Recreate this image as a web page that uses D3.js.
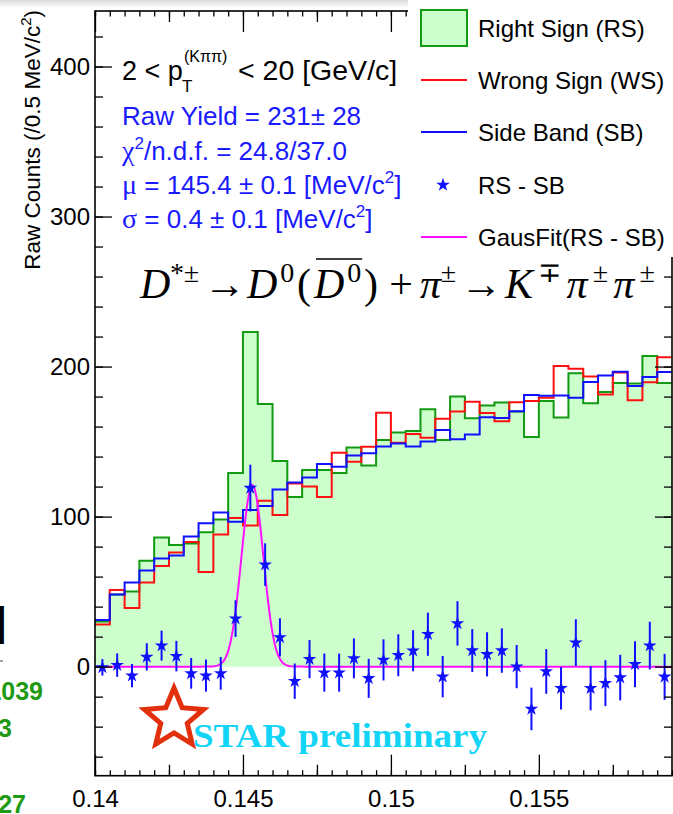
<!DOCTYPE html>
<html lang="en">
<head>
    <meta charset="UTF-8">
    <title>D* RS - SB</title>
    <style>
        body { margin: 0; background: #fff; }
        svg text { font-family: "Liberation Sans", Arial, Helvetica, sans-serif; }
        .axis .domain { display: none; }
        .axis line { stroke: #000; stroke-width: 1.3; }
        .axis text { font-size: 24px; fill: #000; }
    </style>
</head>
<body>

<svg width="673" height="814"></svg>

<script src="https://cdnjs.cloudflare.com/ajax/libs/d3/7.8.5/d3.min.js"></script>
<script>

    // Histogram binning: 0.5 MeV/c^2 bins from 0.14
    const binStart = 0.14;
    const binWidth = 0.0005;

    const rightSign = [30, 48, 50, 70.5, 86, 81, 82, 89.5, 98, 129,
        223, 175, 137, 113, 131, 131, 129, 146, 134, 151,
        156, 157, 171.5, 151, 180, 165.5, 174, 176, 170, 153,
        177, 166, 195.5, 175.5, 183, 189, 188.7, 207, 189];

    const wrongSign = [28, 51, 39, 56, 67, 76, 83, 63, 88, 99,
        94, 110.5, 101, 122, 120, 113, 142.5, 136.5, 146.5, 169.3,
        149.3, 155, 152.5, 165.2, 170, 176.5, 169, 163.5, 176.3, 177,
        179.3, 200.4, 198.5, 193.3, 181.4, 196, 177.5, 189.5, 206.2];

    const sideBand = [31, 48, 56, 64, 72, 74, 86.7, 95.5, 102.7, 96.5,
        104.4, 107.1, 118, 122.7, 126, 135.1, 133.3, 140.7, 142.2, 146.7,
        148.7, 146.7, 150, 157.8, 151.6, 154.8, 166.2, 165.7, 170.3, 181.1,
        180.5, 180.7, 179.3, 189.7, 194, 196.5, 187.1, 193.1, 196.3];

    const rsMinusSb = [-0.5, 1, -6, 6.5, 14, 7, -4.5, -6, -4.5, 32,
        119, 68, 19.5, -9.7, 5, -4, -4, 5.5, -7.8, 4.5,
        7.6, 10.6, 21.6, -6.7, 28.8, 10.7, 8.2, 10.7, 0, -28.2,
        -3.2, -14.4, 16, -14.4, -11, -7.3, 1.6, 14, -6.8];

    const rsMinusSbErr = [5.5, 7.8, 7.8, 9.1, 10, 10.2, 10.2, 10.7, 10.9, 12.2,
        15.6, 14.2, 12.7, 11.8, 12.7, 12.7, 12.7, 13.3, 13, 13.7,
        14, 13.7, 14.4, 13.8, 14.8, 14.3, 14.7, 14.8, 14.4, 14.2,
        14.9, 14.2, 15.6, 14.7, 15.3, 15.2, 15.3, 15.9, 15.3];

    // Gaussian fit to RS - SB
    const fitMean = 0.14532;
    const fitSigma = 0.00037;
    const fitAmp = 121;

    const xTicks = [0.14, 0.145, 0.15, 0.155];
    const xTickLabels = ['0.14', '0.145', '0.15', '0.155'];
    const xMidTicks = [0.1425, 0.1475, 0.1525, 0.1575];
    const yTicks = [0, 100, 200, 300, 400];
    const yTickLabels = ['0', '100', '200', '300', '400'];

    const infoLines = [
        ['Raw Yield = 231', '±', ' 28'],
        ['χ', '2', '/n.d.f. = 24.8/37.0'],
        ['μ', ' = 145.4 ± 0.1 [MeV/c', '2', ']'],
        ['σ', ' = 0.4 ± 0.1 [MeV/c', '2', ']']
    ];

    const legendItems = ['Right Sign (RS)', 'Wrong Sign (WS)', 'Side Band (SB)', 'RS - SB', 'GausFit(RS - SB)'];

    // Colours
    const rsLine = '#129a12';
    const rsFill = '#ccffcc';
    const wsLine = '#ff1010';
    const sbLine = '#1010ff';
    const fitLine = '#ff10ff';
    const infoBlue = '#1a1aff';

    const frame = { left: 95, right: 672, top: 11, bottom: 775.7 };

    const svg = d3.select('svg');

    const nBins = rightSign.length;
    const edges = d3.range(nBins + 1).map(function(i) { return binStart + i * binWidth; });

    const x = d3.scaleLinear()
        .domain([binStart, binStart + nBins * binWidth])
        .range([frame.left, frame.right]);

    const y = d3.scaleLinear()
        .domain([-72.7, 437])
        .range([frame.bottom, frame.top]);

    // light grey strip on top of the screenshot
    const grad = svg.append('defs').append('linearGradient')
        .attr('id', 'topShade').attr('x1', 0).attr('x2', 0).attr('y1', 0).attr('y2', 1);
    grad.append('stop').attr('offset', '0%').attr('stop-color', '#dcdcdc');
    grad.append('stop').attr('offset', '100%').attr('stop-color', '#ffffff');
    svg.append('rect').attr('x', 0).attr('y', 0).attr('width', 660).attr('height', 8)
        .attr('fill', 'url(#topShade)');

    svg.select('defs').append('clipPath').attr('id', 'plotClip')
        .append('rect')
        .attr('x', frame.left).attr('y', frame.top)
        .attr('width', frame.right - frame.left).attr('height', frame.bottom - frame.top);

    const plot = svg.append('g').attr('clip-path', 'url(#plotClip)');

    function stepPoints(values) {
        const pts = values.map(function(v, i) { return [edges[i], v]; });
        pts.push([edges[nBins], values[nBins - 1]]);
        return pts;
    }

    const area = d3.area()
        .curve(d3.curveStepAfter)
        .x(function(d) { return x(d[0]); })
        .y0(y(0))
        .y1(function(d) { return y(d[1]); });

    const line = d3.line()
        .curve(d3.curveStepAfter)
        .x(function(d) { return x(d[0]); })
        .y(function(d) { return y(d[1]); });

    plot.append('path')
        .attr('d', area(stepPoints(rightSign)))
        .attr('fill', rsFill);

    plot.append('path')
        .attr('d', line(stepPoints(rightSign)))
        .attr('fill', 'none').attr('stroke', rsLine).attr('stroke-width', 2);

    plot.append('path')
        .attr('d', line(stepPoints(wrongSign)))
        .attr('fill', 'none').attr('stroke', wsLine).attr('stroke-width', 2);

    plot.append('path')
        .attr('d', line(stepPoints(sideBand)))
        .attr('fill', 'none').attr('stroke', sbLine).attr('stroke-width', 2);

    // Gaussian fit curve
    const fitX = d3.range(0, 601).map(function(i) { return binStart + i * (nBins * binWidth) / 600; });
    const fitLineGen = d3.line()
        .x(function(d) { return x(d); })
        .y(function(d) {
            const z = (d - fitMean) / fitSigma;
            return y(fitAmp * Math.exp(-0.5 * z * z));
        });
    plot.append('path')
        .attr('d', fitLineGen(fitX))
        .attr('fill', 'none').attr('stroke', fitLine).attr('stroke-width', 2);

    // RS - SB points with error bars
    const centers = rsMinusSb.map(function(v, i) { return binStart + (i + 0.5) * binWidth; });

    plot.selectAll('line.err')
        .data(rsMinusSb)
        .enter()
        .append('line')
        .attr('class', 'err')
        .attr('x1', function(d, i) { return x(centers[i]); })
        .attr('x2', function(d, i) { return x(centers[i]); })
        .attr('y1', function(d, i) { return y(d - rsMinusSbErr[i]); })
        .attr('y2', function(d, i) { return y(d + rsMinusSbErr[i]); })
        .attr('stroke', sbLine).attr('stroke-width', 2);

    const star = d3.symbol().type(d3.symbolStar).size(58);

    plot.selectAll('path.pt')
        .data(rsMinusSb)
        .enter()
        .append('path')
        .attr('class', 'pt')
        .attr('d', star)
        .attr('transform', function(d, i) {
            return 'translate(' + x(centers[i]) + ',' + y(d) + ')';
        })
        .attr('fill', sbLine);

    // Axes, ticks inside the frame on all four sides
    function styleAxis(g) {
        g.attr('class', 'axis');
        g.select('.domain').remove();
    }

    svg.append('g')
        .attr('transform', 'translate(0,' + frame.bottom + ')')
        .call(d3.axisBottom(x).tickValues(edges).tickSize(-5.5).tickFormat(''))
        .call(styleAxis);
    svg.append('g')
        .attr('transform', 'translate(0,' + frame.bottom + ')')
        .call(d3.axisBottom(x).tickValues(xMidTicks).tickSize(-11).tickFormat(''))
        .call(styleAxis);
    svg.append('g')
        .attr('transform', 'translate(0,' + frame.bottom + ')')
        .call(d3.axisBottom(x).tickValues(xTicks).tickSize(-21).tickPadding(14)
            .tickFormat(function(d, i) { return xTickLabels[i]; }))
        .call(styleAxis);

    svg.append('g')
        .attr('transform', 'translate(0,' + frame.top + ')')
        .call(d3.axisTop(x).tickValues(edges).tickSize(-5.5).tickFormat(''))
        .call(styleAxis);
    svg.append('g')
        .attr('transform', 'translate(0,' + frame.top + ')')
        .call(d3.axisTop(x).tickValues(xMidTicks).tickSize(-11).tickFormat(''))
        .call(styleAxis);
    svg.append('g')
        .attr('transform', 'translate(0,' + frame.top + ')')
        .call(d3.axisTop(x).tickValues(xTicks).tickSize(-21).tickFormat(''))
        .call(styleAxis);

    const yMinor = d3.range(-60, 437, 20);

    svg.append('g')
        .attr('transform', 'translate(' + frame.left + ',0)')
        .call(d3.axisLeft(y).tickValues(yMinor).tickSize(-8).tickFormat(''))
        .call(styleAxis);
    svg.append('g')
        .attr('transform', 'translate(' + frame.left + ',0)')
        .call(d3.axisLeft(y).tickValues(yTicks).tickSize(-17).tickPadding(5)
            .tickFormat(function(d, i) { return yTickLabels[i]; }))
        .call(styleAxis);

    svg.append('g')
        .attr('transform', 'translate(' + frame.right + ',0)')
        .call(d3.axisRight(y).tickValues(yMinor).tickSize(-8).tickFormat(''))
        .call(styleAxis);
    svg.append('g')
        .attr('transform', 'translate(' + frame.right + ',0)')
        .call(d3.axisRight(y).tickValues(yTicks).tickSize(-17).tickFormat(''))
        .call(styleAxis);

    svg.append('rect')
        .attr('x', frame.left).attr('y', frame.top)
        .attr('width', frame.right - frame.left).attr('height', frame.bottom - frame.top)
        .attr('fill', 'none').attr('stroke', '#000').attr('stroke-width', 1.6);

    // y axis title
    const yTitle = svg.append('text')
        .attr('transform', 'rotate(-90)')
        .attr('x', -10).attr('y', 40)
        .style('text-anchor', 'end')
        .style('font-size', '22.5px')
        .text('Raw Counts (/0.5 MeV/c');
    yTitle.append('tspan').attr('dy', -9).style('font-size', '15px').text('2');
    yTitle.append('tspan').attr('dy', 9).text(')');

    // pT range title
    svg.append('text').attr('x', 122).attr('y', 80).style('font-size', '27px').text('2 < p');
    svg.append('text').attr('x', 182).attr('y', 92).style('font-size', '17px').text('T');
    svg.append('text').attr('x', 184).attr('y', 62).style('font-size', '16px').text('(Kππ)');
    svg.append('text').attr('x', 238).attr('y', 80).style('font-size', '28.5px').text('< 20 [GeV/c]');

    // fit results
    const infoY = [125, 160, 194, 228];
    infoLines.forEach(function(parts, k) {
        const t = svg.append('text')
            .attr('x', 122).attr('y', infoY[k])
            .style('font-size', '26px').style('fill', infoBlue);
        let shifted = false;
        parts.forEach(function(p) {
            const ts = t.append('tspan').text(p);
            if (p === '2') {
                ts.attr('dy', -11).style('font-size', '17px');
                shifted = true;
            } else if (shifted) {
                ts.attr('dy', 11);
                shifted = false;
            }
            if (p === 'χ' || p === 'μ' || p === 'σ') {
                ts.style('font-family', '"Liberation Serif", "Times New Roman", serif').style('font-size', '28px');
            }
        });
    });

    // decay formula, laid out piece by piece
    const formulaSegments = [
        { x0: 140, x1: 200, parts: [{ t: 'D', it: true }, { t: '*±', sup: true }] },
        { x0: 205, x1: 244, parts: [{ t: '→' }] },
        { x0: 247, x1: 382, parts: [{ t: 'D', it: true }, { t: '0', sup: true }, { t: '(' },
            { t: 'D', it: true, bar: true }, { t: '0', sup: true, bar: true }, { t: ')' }] },
        { x0: 389, x1: 413, parts: [{ t: '+' }] },
        { x0: 420, x1: 456, parts: [{ t: 'π', it: true }, { t: '±', sup: true }] },
        { x0: 461, x1: 501, parts: [{ t: '→' }] },
        { x0: 505, x1: 661, parts: [{ t: 'K', it: true }, { t: '∓', sup: true },
            { t: 'π', it: true }, { t: '±', sup: true }, { t: 'π', it: true }, { t: '±', sup: true }] }
    ];
    const barNodes = [];
    formulaSegments.forEach(function(seg) {
        const t = svg.append('text')
            .attr('x', seg.x0).attr('y', 298)
            .style('font-family', '"Liberation Serif", "Times New Roman", serif')
            .style('font-size', '42px');
        let up = false;
        let nChars = 0;
        seg.parts.forEach(function(p) {
            const ts = t.append('tspan').text(p.t);
            nChars += p.t.length;
            if (p.it) ts.style('font-style', 'italic');
            if (p.sup) {
                ts.attr('dy', up ? 0 : -16).style('font-size', '28px');
                up = true;
            } else if (up) {
                ts.attr('dy', 16);
                up = false;
            }
            if (p.bar) barNodes.push(ts.node());
        });
        const w = t.node().getBBox().width;
        if (nChars > 1) {
            t.style('letter-spacing', ((seg.x1 - seg.x0 - w) / nChars) + 'px');
        } else {
            t.attr('x', seg.x0 + (seg.x1 - seg.x0 - w) / 2);
        }
    });
    const b0 = barNodes[0].getBBox();
    const b1 = barNodes[1].getBBox();
    svg.append('line')
        .attr('x1', b0.x + 3).attr('x2', b1.x + b1.width - 2)
        .attr('y1', b1.y + 2).attr('y2', b1.y + 2)
        .attr('stroke', '#000').attr('stroke-width', 1.4);

    // legend
    const legend = svg.append('g');
    legend.append('rect').attr('x', 408).attr('y', 0).attr('width', 270).attr('height', 257).attr('fill', '#fff');
    const legY = [28, 80, 132, 185, 237];
    legend.append('rect')
        .attr('x', 421).attr('y', 10).attr('width', 46).attr('height', 36)
        .attr('fill', rsFill).attr('stroke', rsLine).attr('stroke-width', 2);
    [[1, wsLine], [2, sbLine], [4, fitLine]].forEach(function(e) {
        legend.append('line')
            .attr('x1', 421).attr('x2', 467)
            .attr('y1', legY[e[0]]).attr('y2', legY[e[0]])
            .attr('stroke', e[1]).attr('stroke-width', 2);
    });
    legend.append('path')
        .attr('d', star)
        .attr('transform', 'translate(443,' + legY[3] + ')')
        .attr('fill', sbLine);
    legend.selectAll('text')
        .data(legendItems)
        .enter()
        .append('text')
        .attr('x', 478)
        .attr('y', function(d, i) { return legY[i] + 8.5; })
        .style('font-size', '24px')
        .text(function(d) { return d; });

    // STAR preliminary logo
    const starPts = d3.range(10).map(function(i) {
        const a = -Math.PI / 2 + i * Math.PI / 5;
        const r = (i % 2 === 0) ? 31 : 31 * 0.45;
        return [174 + r * Math.cos(a), 719 + r * Math.sin(a)];
    });
    svg.append('path')
        .attr('d', d3.line()(starPts) + 'Z')
        .attr('fill', 'none').attr('stroke', '#e2300c').attr('stroke-width', 5)
        .attr('stroke-linejoin', 'miter');
    svg.append('text')
        .attr('x', 193).attr('y', 747)
        .attr('textLength', 294).attr('lengthAdjust', 'spacingAndGlyphs')
        .style('font-family', '"Liberation Serif", "Times New Roman", serif')
        .style('font-weight', 'bold').style('font-size', '34px')
        .style('fill', '#12d4f6')
        .text('STAR preliminary');

    // bits of the neighbouring panel cut off at the left edge
    svg.append('text').attr('x', 6).attr('y', 636).style('text-anchor', 'end')
        .style('font-size', '40px').style('font-weight', 'bold').text(']');
    svg.append('line').attr('x1', 0).attr('x2', 3).attr('y1', 661).attr('y2', 661)
        .attr('stroke', '#444').attr('stroke-width', 1);
    const sideGreen = '#1f9a14';
    [['1039', 43, 700], ['3', 12, 737], ['27', 26, 813]].forEach(function(s) {
        svg.append('text').attr('x', s[1]).attr('y', s[2]).style('text-anchor', 'end')
            .style('font-size', '25px').style('font-weight', 'bold').style('fill', sideGreen)
            .text(s[0]);
    });

</script>
</body>
</html>
